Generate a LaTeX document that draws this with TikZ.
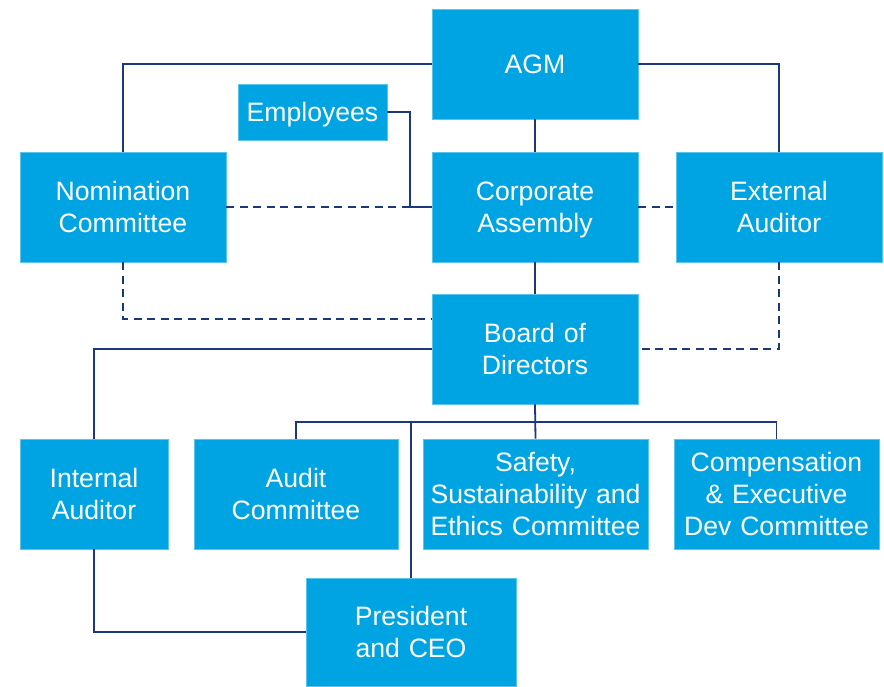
\documentclass[tikz,border=0pt]{standalone}
\usepackage{fontspec}
\setmainfont{Liberation Sans}
\usepackage{xcolor}
\usepackage{tikz}
\usetikzlibrary{positioning,calc}

\definecolor{boxblue}{RGB}{0,164,226}
\definecolor{linenavy}{RGB}{28,56,125}

\begin{document}
\begin{tikzpicture}[
    x=1pt, y=-1pt,
    bx/.style={rectangle, draw=boxblue!65!white, line width=0.8pt, fill=boxblue, text=white, align=center, inner sep=0pt, minimum height=110pt, minimum width=206pt,
        text width={\pgfkeysvalueof{/pgf/minimum width}-4pt}, font=\fontsize{26.6}{32}\selectfont,
        execute at begin node={\rule{0pt}{1.0em}}, execute at end node={\rule[-0.25em]{0pt}{0pt}}},
    ln/.style={draw=linenavy, line width=1.8pt},
    dln/.style={ln, dash pattern=on 8pt off 5.5pt}
]
    \useasboundingbox (0,0) rectangle (884,686);

    \node [bx] (agm) at (535,64) {AGM};
    \node [bx, minimum width=149pt, minimum height=56pt] (emp) at (312.5,112) {Employees};
    \node [bx] (nom) at (123,207) {Nomination\\Committee};
    \node [bx] (ca) at (535,207) {Corporate\\Assembly};
    \node [bx] (ext) at (779,207) {External\\Auditor};
    \node [bx] (bod) at (535,349) {Board of\\Directors};
    \node [bx, minimum width=148pt] (ia) at (94,494) {Internal\\Auditor};
    \node [bx, minimum width=204pt] (aud) at (296,494) {Audit\\Committee};
    \node [bx, minimum width=225pt] (saf) at (535.5,494) {Safety,\\Sustainability and\\Ethics Committee};
    \node [bx, minimum width=205pt] (comp) at (776.5,494) {Compensation\\\& Executive\\Dev Committee};
    \node [bx, minimum width=210pt, minimum height=108pt] (ceo) at (411,632) {President\\and CEO};

    \coordinate (ej) at (410,207);
    \coordinate (bus) at (535,422);

    \draw [ln] (agm.west) -| (nom.north);
    \draw [ln] (agm.east) -| (ext.north);
    \draw [ln] (agm.south) -- (ca.north);
    \draw [ln] (emp.east) -| (ej) -- (ca.west);
    \draw [dln] (nom.east) -- (ej);
    \draw [dln] (ca.east) -- (ext.west);
    \draw [ln] (ca.south) -- (bod.north);
    \draw [dln] (nom.south) |- ([yshift=30pt]bod.west);
    \draw [dln] (ext.south) |- (bod.east);
    \draw [ln] (bod.west) -| (ia.north);
    \draw [ln] (bod.south) -- (saf.north);
    \draw [ln] (aud.north) |- (bus) -| (comp.north);
    \draw [ln] (ceo.north) |- (bus);
    \draw [ln] (ia.south) |- (ceo.west);
\end{tikzpicture}
\end{document}
